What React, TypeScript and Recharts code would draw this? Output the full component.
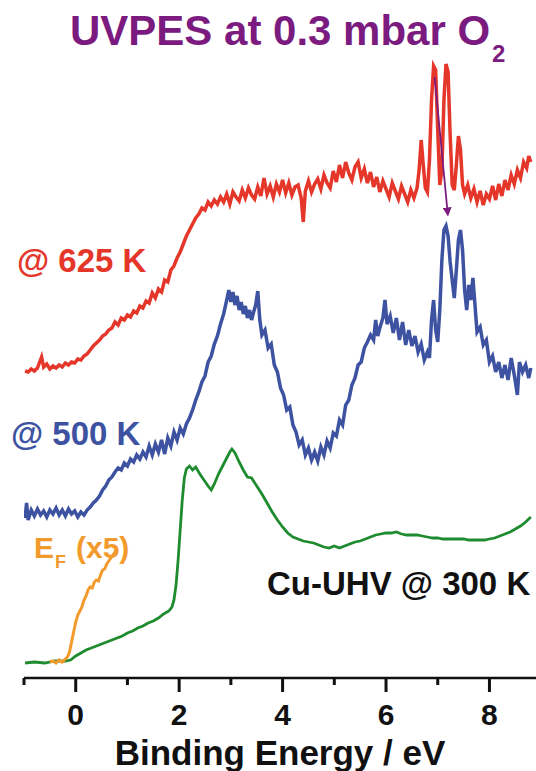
import { LineChart, Line, XAxis, YAxis, ReferenceLine, Customized } from "recharts";

// binding energies (eV) and intensities (arb. units, stacked offsets)
const redEnergy = [
  -0.98, -0.92, -0.86, -0.8, -0.74, -0.66, -0.62, -0.56, -0.5, -0.44, -0.38, -0.32, -0.26, -0.2, -0.14, -0.08, -0.02,
  0.04, 0.1, 0.16, 0.22, 0.28, 0.34, 0.4, 0.46, 0.52, 0.58, 0.64, 0.7, 0.76, 0.82, 0.88, 0.94, 1.0, 1.06, 1.12, 1.18,
  1.24, 1.3, 1.36, 1.42, 1.48, 1.54, 1.6, 1.66, 1.72, 1.78, 1.84, 1.9, 1.96, 2.02, 2.08, 2.14, 2.2, 2.26, 2.32, 2.38,
  2.44, 2.5, 2.56, 2.62, 2.68, 2.74, 2.8, 2.86, 2.92, 2.98, 3.04, 3.1, 3.16, 3.22, 3.28, 3.34, 3.4, 3.46, 3.52, 3.58,
  3.64, 3.7, 3.76, 3.82, 3.88, 3.94, 4.0, 4.06, 4.12, 4.18, 4.24, 4.3, 4.36, 4.4, 4.44, 4.5, 4.56, 4.62, 4.68, 4.74,
  4.8, 4.86, 4.92, 4.98, 5.04, 5.1, 5.16, 5.22, 5.28, 5.34, 5.4, 5.46, 5.52, 5.58, 5.64, 5.7, 5.76, 5.82, 5.88, 5.94,
  6.0, 6.06, 6.12, 6.18, 6.24, 6.3, 6.36, 6.42, 6.48, 6.54, 6.6, 6.64, 6.68, 6.72, 6.76, 6.8, 6.84, 6.88, 6.92, 6.96,
  7.0, 7.04, 7.08, 7.12, 7.16, 7.2, 7.24, 7.28, 7.32, 7.36, 7.4, 7.44, 7.48, 7.52, 7.58, 7.64, 7.7, 7.76, 7.82, 7.88,
  7.94, 8.0, 8.06, 8.12, 8.18, 8.24, 8.3, 8.36, 8.42, 8.48, 8.54, 8.6, 8.66, 8.72, 8.76, 8.8,
];
const red625K = [
  307, 306, 309, 307, 310, 321, 311, 314, 309, 312, 310, 313, 311, 315, 313, 316, 315,
  319, 318, 322, 324, 328, 332, 335, 338, 342, 344, 348, 350, 356, 353, 360, 358, 363, 361, 367, 365,
  372, 370, 377, 375, 385, 380, 389, 386, 398, 396, 408, 412, 420, 426, 434, 442, 448, 454, 460, 464,
  470, 468, 476, 472, 478, 474, 481, 476, 484, 474, 486, 481, 477, 488, 480, 490, 483, 479, 491, 482,
  500, 484, 492, 481, 494, 486, 498, 485, 495, 483, 491, 493, 480, 456, 487, 497, 486, 494, 499, 489,
  503, 495, 490, 507, 496, 513, 500, 516, 505, 498, 511, 516, 500, 509, 495, 506, 491, 501, 486, 497,
  489, 481, 495, 487, 479, 492, 484, 476, 488, 480, 490, 508, 538, 513, 490, 486, 518, 578, 612, 608,
  548, 493, 508, 578, 614, 606, 543, 493, 488, 513, 542, 528, 493, 484, 493, 480, 489, 476, 487, 473,
  484, 479, 492, 478, 494, 482, 498, 488, 503, 494, 508, 500, 516, 510, 522, 516,
];

const blueEnergy = [
  -0.98, -0.95, -0.92, -0.86, -0.8, -0.74, -0.68, -0.62, -0.56, -0.5, -0.44, -0.38, -0.32, -0.26, -0.2, -0.14, -0.08,
  -0.02, 0.04, 0.1, 0.16, 0.22, 0.28, 0.34, 0.4, 0.46, 0.52, 0.58, 0.64, 0.7, 0.76, 0.82, 0.88, 0.94, 1.0, 1.06, 1.12,
  1.18, 1.24, 1.3, 1.36, 1.42, 1.48, 1.54, 1.6, 1.66, 1.72, 1.78, 1.84, 1.9, 1.96, 2.02, 2.08, 2.14, 2.2, 2.26, 2.32,
  2.38, 2.44, 2.5, 2.56, 2.62, 2.68, 2.74, 2.8, 2.86, 2.92, 2.96, 3.0, 3.04, 3.08, 3.12, 3.16, 3.2, 3.24, 3.28, 3.32,
  3.36, 3.4, 3.44, 3.48, 3.52, 3.56, 3.6, 3.66, 3.72, 3.78, 3.84, 3.9, 3.96, 4.02, 4.08, 4.14, 4.2, 4.26, 4.32, 4.38,
  4.44, 4.5, 4.56, 4.62, 4.68, 4.74, 4.8, 4.86, 4.92, 4.98, 5.04, 5.1, 5.16, 5.22, 5.28, 5.34, 5.4, 5.46, 5.52, 5.58,
  5.64, 5.7, 5.76, 5.8, 5.84, 5.88, 5.94, 5.98, 6.02, 6.08, 6.14, 6.2, 6.26, 6.32, 6.38, 6.44, 6.5, 6.56, 6.62, 6.68,
  6.74, 6.8, 6.84, 6.88, 6.92, 6.96, 7.0, 7.04, 7.08, 7.12, 7.16, 7.2, 7.24, 7.28, 7.32, 7.36, 7.4, 7.44, 7.48, 7.52,
  7.56, 7.6, 7.64, 7.68, 7.72, 7.76, 7.82, 7.88, 7.94, 8.0, 8.06, 8.12, 8.18, 8.24, 8.3, 8.36, 8.42, 8.48, 8.54, 8.58,
  8.64, 8.7, 8.76, 8.8,
];
const blue500K = [
  160, 175, 158, 168, 162, 169, 163, 167, 161, 168, 164, 170, 163, 168, 162, 169, 164,
  167, 161, 166, 163, 168, 171, 175, 178, 182, 188, 192, 198, 201, 206, 210, 208, 215, 212, 219, 216,
  223, 219, 226, 221, 232, 223, 234, 226, 238, 224, 240, 232, 246, 238, 250, 244, 254, 260, 268, 278,
  286, 296, 302, 316, 322, 334, 342, 354, 364, 378, 388, 376, 386, 373, 382, 368, 376, 364, 372, 360,
  368, 358, 366, 373, 387, 358, 343, 348, 330, 334, 313, 306, 290, 283, 268, 271, 253, 246, 233, 238,
  223, 230, 218, 226, 217, 231, 223, 237, 230, 245, 242, 258, 253, 273, 278, 293, 300, 313, 316, 330,
  336, 343, 338, 358, 342, 350, 360, 378, 354, 362, 345, 360, 338, 356, 333, 348, 332, 342, 326, 334,
  318, 326, 320, 358, 378, 348, 336, 368, 418, 448, 452, 442, 416, 398, 380, 408, 438, 448, 428, 388,
  368, 393, 378, 400, 373, 346, 351, 333, 338, 316, 322, 306, 316, 300, 313, 298, 320, 303, 283, 316,
  306, 313, 300, 310,
];

const greenEnergy = [
  -0.98, -0.8, -0.6, -0.4, -0.2, -0.1, 0.0, 0.1, 0.2, 0.3, 0.4, 0.5, 0.6, 0.7, 0.8, 0.9, 1.0, 1.1, 1.2, 1.3, 1.4,
  1.5, 1.6, 1.7, 1.8, 1.86, 1.9, 1.94, 1.98, 2.02, 2.06, 2.1, 2.14, 2.2, 2.26, 2.32, 2.4, 2.48, 2.56, 2.62, 2.68,
  2.76, 2.84, 2.92, 2.98, 3.02, 3.08, 3.16, 3.24, 3.32, 3.4, 3.5, 3.6, 3.7, 3.8, 3.9, 4.0, 4.1, 4.2, 4.3, 4.4, 4.5,
  4.6, 4.7, 4.8, 4.9, 5.0, 5.1, 5.2, 5.3, 5.4, 5.5, 5.6, 5.7, 5.8, 5.9, 6.0, 6.1, 6.2, 6.3, 6.4, 6.5, 6.6, 6.7, 6.8,
  6.9, 7.0, 7.1, 7.2, 7.3, 7.4, 7.5, 7.6, 7.7, 7.8, 7.9, 8.0, 8.1, 8.2, 8.3, 8.4, 8.5, 8.6, 8.7, 8.8,
];
const greenUHV = [
  15, 16, 15, 17, 17, 18, 22, 25, 28, 30, 32, 34, 36, 38, 40, 42, 45, 47, 50, 52, 55,
  57, 60, 64, 67, 71, 78, 93, 118, 148, 178, 200, 209, 212, 208, 211, 204, 198, 192, 188, 194,
  204, 212, 220, 226, 229, 225, 216, 208, 201, 200, 192, 184, 175, 166, 158, 151, 145, 141, 139, 137, 136,
  135, 133, 131, 130, 132, 130, 132, 134, 136, 137, 139, 141, 143, 144, 145, 145, 146, 144, 143, 143, 143, 142, 141,
  140, 140, 139, 139, 139, 139, 139, 138, 138, 138, 138, 139, 140, 142, 144, 146, 149, 152, 156, 161,
];

const orangeEnergy = [
  -0.5, -0.44, -0.38, -0.32, -0.26, -0.2, -0.16, -0.12, -0.08, -0.04, 0.0, 0.04, 0.08, 0.12, 0.16, 0.2, 0.24, 0.28,
  0.32, 0.36, 0.4, 0.44, 0.48, 0.52, 0.56, 0.6, 0.64, 0.68, 0.72, 0.76, 0.8,
];
const orangeEF = [
  16, 17, 15, 18, 16, 19, 21, 26, 36, 46, 56, 63, 67, 71, 78, 82, 88, 91,
  90, 96, 98, 97, 103, 108, 109, 114, 117, 120, 123, 126, 129,
];

const xTicks = [-1, 0, 1, 2, 3, 4, 5, 6, 7, 8];

const zip = (xs: number[], ys: number[]) => xs.map((e, i) => ({ e, v: ys[i] }));

const redData = zip(redEnergy, red625K);
const blueData = zip(blueEnergy, blue500K);
const greenData = zip(greenEnergy, greenUHV);
const orangeData = zip(orangeEnergy, orangeEF);

const FONT = "'Liberation Sans', Arial, Helvetica, sans-serif";
const PURPLE = "#7b1b7f";

const renderTick = (props: any) => {
  const { x, y, payload } = props;
  const major = payload.value % 2 === 0;
  return (
    <g>
      <line x1={x} x2={x} y1={y} y2={y + (major ? 14 : 7)} stroke="#111" strokeWidth={3} />
      {major && (
        <text x={x} y={y + 47} textAnchor="middle" fontSize={30} fontWeight="bold" fontFamily={FONT} fill="#111">
          {payload.value}
        </text>
      )}
    </g>
  );
};

const Labels = () => (
  <g fontFamily={FONT} fontWeight="bold">
    <defs>
      <marker id="arrowHead" viewBox="0 0 10 10" refX="5" refY="5" markerWidth="5" markerHeight="5" orient="auto">
        <path d="M0,0 L10,5 L0,10 z" fill={PURPLE} />
      </marker>
    </defs>
    <text x={70} y={45} fontSize={42} fill={PURPLE}>UVPES at 0.3 mbar O</text>
    <text x={492} y={62} fontSize={24} fill={PURPLE}>2</text>
    <text x={17} y={272} fontSize={33} fill="#e5362a">@ 625 K</text>
    <text x={11} y={445} fontSize={33} fill="#3d52a1">@ 500 K</text>
    <text x={267} y={595} fontSize={33} fill="#111">Cu-UHV @ 300 K</text>
    <text x={34} y={558} fontSize={30} fill="#f39a2c">E</text>
    <text x={55} y={568} fontSize={18} fill="#f39a2c">F</text>
    <text x={76} y={558} fontSize={30} fill="#f39a2c">(x5)</text>
    <text x={280} y={765} fontSize={35} textAnchor="middle" fill="#111">Binding Energy / eV</text>
  </g>
);

export default function App() {
  return (
    <div style={{ position: "absolute", left: 0, top: 0, width: 536, height: 771, background: "#fff" }}>
      <LineChart width={536} height={771} margin={{ top: 0, right: 0, left: 24, bottom: 0 }}>
        <XAxis
          type="number"
          dataKey="e"
          domain={[-1, 8.9]}
          ticks={xTicks}
          allowDataOverflow
          height={93}
          axisLine={{ stroke: "#111", strokeWidth: 2.5 }}
          tickLine={false}
          tickSize={0}
          tickMargin={0}
          tick={renderTick}
          interval={0}
        />
        <YAxis hide type="number" domain={[0, 678]} allowDataOverflow />
        <Line data={redData} dataKey="v" stroke="#e5362a" strokeWidth={3.5} dot={false} isAnimationActive={false} type="linear" />
        <Line data={blueData} dataKey="v" stroke="#3d52a1" strokeWidth={3.5} dot={false} isAnimationActive={false} type="linear" />
        <Line data={greenData} dataKey="v" stroke="#1f8b2f" strokeWidth={2.8} dot={false} isAnimationActive={false} type="linear" />
        <Line data={orangeData} dataKey="v" stroke="#f39a2c" strokeWidth={3} dot={false} isAnimationActive={false} type="linear" />
        <Customized component={Labels} />
        <ReferenceLine
          segment={[{ x: 6.94, y: 601 }, { x: 7.19, y: 466 }]}
          shape={(p: any) => (
            <line x1={p.x1} y1={p.y1} x2={p.x2} y2={p.y2} stroke={PURPLE} strokeWidth={1.8} markerEnd="url(#arrowHead)" />
          )}
        />
      </LineChart>
    </div>
  );
}
